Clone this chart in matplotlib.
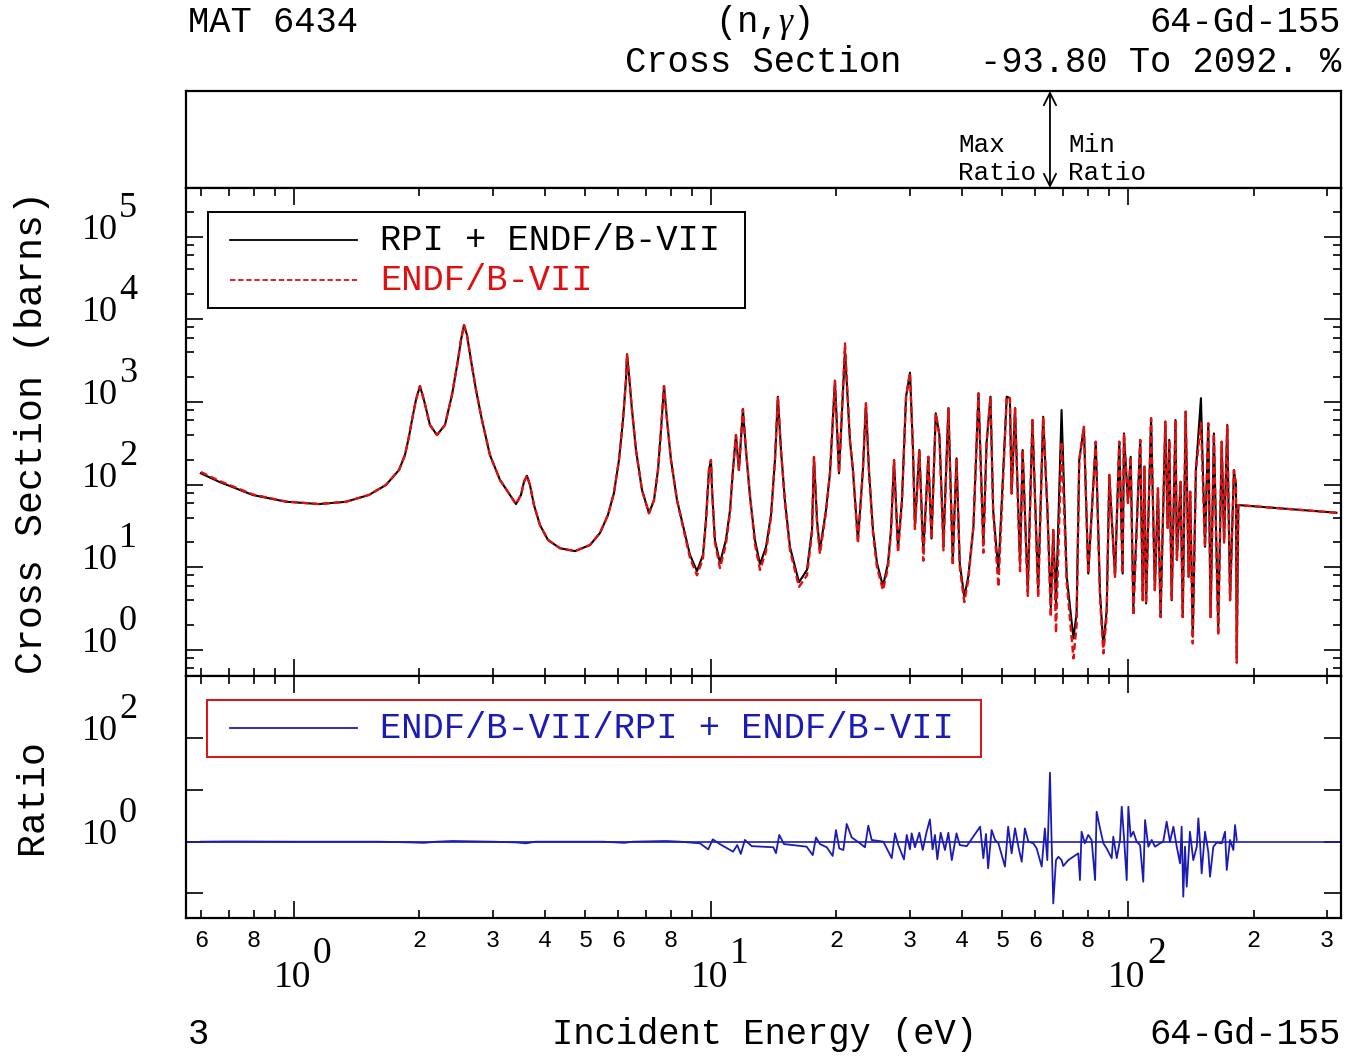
import matplotlib.pyplot as plt
from matplotlib.patches import Rectangle
from matplotlib.lines import Line2D
from matplotlib.ticker import FixedLocator, NullLocator
from matplotlib.transforms import blended_transform_factory, offset_copy

plt.rcParams['font.family'] = ['Liberation Mono', 'DejaVu Sans']
plt.rcParams['mathtext.fontset'] = 'custom'
plt.rcParams['mathtext.rm'] = 'Liberation Serif'
plt.rcParams['mathtext.it'] = 'Liberation Serif:italic'

# capture cross section of Gd-155 (eV, barns)
energy = [0.598, 0.662, 0.797, 0.957, 1.148, 1.332, 1.513, 1.662, 1.786, 1.846,
          1.887, 1.919, 1.961, 2.005, 2.050, 2.119, 2.203, 2.302, 2.393, 2.474,
          2.515, 2.557, 2.600, 2.657, 2.733, 2.824, 2.951, 3.119, 3.296, 3.407,
          3.503, 3.561, 3.620, 3.681, 3.763, 3.890, 4.067, 4.345, 4.720, 5.127,
          5.418, 5.662, 5.852, 6.017, 6.152, 6.255, 6.290, 6.360, 6.466, 6.610,
          6.833, 7.102, 7.301, 7.464, 7.589, 7.716, 7.845, 8.020, 8.290, 8.617,
          8.906, 9.257, 9.568, 9.728, 9.890, 10.0, 10.06, 10.22, 10.51, 10.86,
          11.11, 11.29, 11.48, 11.67, 11.93, 12.13, 12.41, 12.75, 13.11, 13.55,
          13.93, 14.24, 14.47, 14.72, 15.04, 15.47, 16.26, 16.99, 17.47, 17.66,
          17.96, 18.25, 18.87, 19.29, 19.83, 20.28, 20.96, 21.54, 21.90, 22.51,
          23.14, 23.53, 23.92, 24.46, 25.01, 25.85, 26.58, 27.02, 27.48, 28.09,
          28.71, 29.36, 30.01, 30.51, 30.84, 31.6, 32.3, 33.2, 33.8, 34.6,
          35.3, 36.1, 37.1, 38.0, 38.8, 39.5, 40.5, 41.4, 42.6, 43.8,
          45.0, 45.8, 46.8, 47.5, 48.9, 51.2, 52.1, 52.6, 53.6, 55.1,
          55.9, 57.5, 59.0, 60.9, 62.6, 64.1, 65.3, 66.2, 67.2, 69.3,
          71.3, 74.0, 75.3, 76.4, 78.4, 80.3, 83.7, 85.7, 87.3, 88.9,
          90.2, 93.1, 95.3, 97.1, 97.8, 100.0, 101.5, 103.0, 107.0, 108.5,
          109.5, 110.5, 113.6, 116.0, 118.0, 119.7, 122.9, 124.5, 125.6, 127.3,
          130.0, 131.0, 133.7, 135.3, 137.5, 139.8, 141.0, 143.0, 145.5, 149.6,
          153.0, 155.8, 157.8, 160.7, 164.6, 167.8, 170.0, 173.0, 175.7, 179.5,
          181.5, 182.3, 183.9, 316.0]

xs_rpi = [137, 108, 74.8, 62.1, 58.2, 62, 75, 99, 150, 228,
          380, 604, 1055, 1556, 1055, 526, 398, 526, 1212, 3213,
          5600, 8510, 6440, 3213, 1393, 604, 228, 114, 75, 58.2,
          75, 108, 128, 99, 56.8, 32.4, 21.4, 17.0, 15.7, 18.6,
          26, 42.9, 79, 198, 604, 1840, 3764, 2115, 798, 262,
          86, 45, 65, 150, 457, 1556, 604, 198, 65, 28.3,
          14.1, 9.0, 14.1, 37.3, 150, 198, 86, 21.4, 11.3, 21.4,
          49, 150, 398, 150, 820, 262, 71, 21.4, 10.9, 17.6,
          42.9, 198, 1157, 262, 65, 17.6, 6.6, 9.3, 28.3, 216,
          37.3, 16.2, 49, 137, 1804, 137, 4200, 345, 150, 21.4,
          150, 962, 150, 28.3, 11.3, 5.9, 11.3, 28.3, 198, 17,
          65, 1157, 2255, 262, 31, 262, 15.4, 217, 22.3, 728,
          398, 19.5, 840, 12.3, 208, 11.2, 4.4, 7.7, 31, 1270,
          19.5, 316, 1157, 49, 8.85, 1157, 1110, 78, 840, 11.2,
          262, 5.3, 604, 5.3, 662, 49, 3.3, 28.3, 3.66, 798,
          7.7, 1.38, 2.8, 198, 500, 8.4, 330, 4.85, 1.1, 3.05,
          131, 7.7, 330, 8.4, 416, 60, 217, 3.2, 347, 4,
          165, 3.66, 634, 5.3, 90, 2.5, 577, 30, 347, 4,
          604, 12.3, 108, 2.5, 762, 7.7, 82, 1.45, 150, 1110,
          17.7, 551, 2.5, 416, 1.9, 330, 20, 526, 4, 150,
          100, 0.83, 56.6, 45.7]

xs_endf = [142, 111, 76, 62.5, 58.2, 62, 75, 99, 150, 228,
           380, 604, 1055, 1556, 1055, 526, 398, 526, 1212, 3213,
           5600, 8510, 6440, 3213, 1393, 604, 228, 114, 75, 58.2,
           75, 108, 128, 99, 56.8, 32.4, 21.4, 17.0, 15.7, 18.6,
           26, 42.9, 79, 198, 604, 1840, 3764, 2115, 798, 262,
           86, 45, 65, 150, 457, 1556, 604, 198, 65, 27,
           13, 8.0, 12.8, 35, 150, 198, 86, 20, 9.8, 19,
           46, 150, 398, 150, 820, 262, 71, 19, 9.3, 15.5,
           40, 198, 1157, 262, 62, 16, 5.8, 8.0, 26, 216,
           34, 14.5, 46, 137, 1804, 137, 5100, 345, 150, 19.5,
           150, 962, 150, 26, 10, 5.3, 10, 26, 198, 15,
           62, 1157, 2255, 262, 29, 262, 12, 217, 22.3, 728,
           398, 16, 840, 10.5, 208, 10, 3.8, 7, 31, 1270,
           15, 316, 1157, 49, 5.8, 1157, 1110, 78, 840, 9,
           262, 4.5, 604, 4.3, 662, 49, 2.5, 28.3, 1.6, 330,
           6.5, 0.79, 2.0, 198, 500, 8.4, 330, 4.2, 0.91, 2.6,
           131, 7.7, 330, 8.4, 416, 60, 217, 2.6, 347, 4,
           165, 3.66, 634, 5.3, 90, 2.5, 577, 30, 347, 4,
           604, 12.3, 108, 2.5, 762, 7.7, 82, 1.2, 150, 551,
           17.7, 551, 2.5, 416, 1.5, 330, 20, 526, 4, 150,
           100, 0.7, 56.6, 45.7]

# ratio ENDF/B-VII / (RPI + ENDF/B-VII)
ratio_energy = [0.598, 0.70, 1.0, 1.6, 1.9, 2.05, 2.2, 2.4, 2.6, 3.0,
                3.4, 3.6, 3.8, 5.5, 6.2, 6.5, 7.3, 7.8, 8.43,
                9.41, 9.85, 10.1, 10.5, 11.3, 11.56, 11.79, 12.06, 12.52, 14.11,
                14.32, 14.58, 14.96, 16.96, 17.54, 17.86, 18.25, 18.95, 19.58, 19.94,
                20.31, 20.77, 21.16, 21.75, 22.77, 23.40, 23.84, 24.29, 25.9, 27.13,
                27.63, 28.13, 29.03, 29.47, 30.0, 30.29, 30.84, 31.6, 32.2, 32.9,
                33.5, 34.0, 34.45, 34.9, 35.55, 36.4, 37.09, 37.8, 38.8, 39.5,
                41.05, 44.2, 45.0, 45.65, 46.2, 47.1, 48.0, 48.9, 50.7, 51.6,
                52.6, 53.6, 54.6, 55.6, 56.6, 57.7, 59.3, 60.4, 62.1, 63.2,
                64.05, 65.0, 65.6, 66.2, 67.2, 68.1, 69.3, 69.96, 71.9, 73.9,
                76.0, 76.7, 77.4, 78.8, 80.3, 81.8, 83.4, 84.1, 85.7, 87.3,
                88.9, 91.4, 92.2, 94.0, 95.7, 96.6, 97.8, 99.3, 100.2, 101.5,
                103.0, 104.9, 106.9, 108.8, 109.9, 111.9, 114.0, 116.1, 119.3, 121.5,
                123.8, 126.1, 128.5, 130.9, 133.3, 134.5, 135.7, 137.0, 138.3, 140.8,
                143.4, 146.2, 147.5, 148.9, 150.2, 153.0, 155.8, 157.3, 160.2, 163.2,
                167.8, 170.9, 172.5, 175.7, 178.9, 180.6, 182.3]

ratio = [1.0, 1.01, 1.0, 1.0, 0.97, 0.95, 1.0, 1.03, 1.02, 1.0,
         0.97, 0.93, 1.0, 1.0, 0.95, 1.0, 1.02, 1.03, 1.0,
         0.93, 0.71, 1.11, 0.90, 0.64, 0.86, 0.58, 1.08, 0.82, 0.78,
         0.60, 1.35, 0.90, 0.80, 0.55, 1.21, 0.90, 0.78, 0.53, 1.68,
         0.74, 0.69, 2.20, 1.21, 0.93, 0.78, 2.04, 1.08, 1.0, 0.48,
         1.45, 0.86, 0.455, 1.35, 0.71, 1.45, 0.78, 1.49, 0.69, 1.56,
         2.70, 0.71, 1.35, 0.455, 1.49, 0.69, 1.49, 0.44, 1.45, 0.86,
         0.82, 1.95, 0.48, 1.41, 0.305, 1.68, 1.08, 0.93, 0.33, 1.95,
         0.595, 1.81, 0.80, 0.41, 1.81, 1.0, 0.93, 0.74, 0.33, 1.81,
         0.44, 21.6, 1.0, 0.064, 0.44, 0.51, 0.44, 0.338, 0.44, 0.51,
         0.595, 0.181, 1.56, 0.93, 1.35, 1.08, 0.181, 3.80, 1.81, 0.93,
         0.74, 0.48, 1.25, 0.48, 1.08, 4.75, 1.25, 0.181, 4.75, 1.25,
         1.56, 1.0, 0.86, 0.168, 2.62, 0.80, 1.08, 0.80, 0.93, 1.0,
         2.44, 1.0, 1.95, 0.80, 0.381, 1.95, 0.0863, 0.80, 0.135, 1.56,
         0.44, 0.80, 2.83, 0.93, 0.244, 1.56, 0.64, 0.21, 0.80, 0.96,
         0.93, 1.56, 0.283, 1.08, 0.69, 2.10, 1.08]

x_major = [1, 10, 100]
x_major_exp = ['0', '1', '2']
x_minor = [0.6, 0.7, 0.8, 0.9, 2, 3, 4, 5, 6, 7, 8, 9,
           20, 30, 40, 50, 60, 70, 80, 90, 200, 300]
x_minor_labels = ['6', '', '8', '', '2', '3', '4', '5', '6', '', '8', '',
                  '2', '3', '4', '5', '6', '', '8', '', '2', '3']

xs_ticks = [1, 10, 100, 1e3, 1e4, 1e5]
xs_exp = ['0', '1', '2', '3', '4', '5']
ratio_ticks = [0.1, 1, 10, 100]
ratio_label_ticks = [1, 100]
ratio_exp = ['0', '2']

W, H = 1360, 1057
BLUE = '#1c1cb4'
RED = '#e01010'
TXT = 25.6
SERIF = 'Liberation Serif'

fig = plt.figure(figsize=(W / 100, H / 100), dpi=100)


def box(x0, y0, x1, y1):
    return [x0 / W, 1 - y1 / H, (x1 - x0) / W, (y1 - y0) / H]


def fx(x):
    return x / W


def fy(y):
    return 1 - y / H


ax_top = fig.add_axes(box(186, 91, 1341, 188))
ax = fig.add_axes(box(186, 188, 1341, 676))
axr = fig.add_axes(box(186, 676, 1341, 918))

xlim = (0.551, 324.2)

for a in (ax_top, ax, axr):
    for s in a.spines.values():
        s.set_linewidth(1.6)

ax_top.set_xscale('log')
ax_top.set_xlim(*xlim)
ax_top.set_ylim(0, 1)
ax_top.set_xticks([])
ax_top.set_yticks([])
ax_top.xaxis.set_minor_locator(NullLocator())

for a in (ax, axr):
    a.set_xscale('log')
    a.set_yscale('log')
    a.set_xlim(*xlim)
    a.xaxis.set_major_locator(FixedLocator(x_major))
    a.xaxis.set_minor_locator(FixedLocator(x_minor))
    a.tick_params(which='both', direction='in', top=True, right=True, width=1.2,
                  labelleft=False, labelbottom=False)
    a.tick_params(which='major', length=12)
    a.tick_params(which='minor', length=6)


def power_labels(a, ticks, exps, axis, size):
    # "10" plus a full-size raised exponent, as in the original plot
    if axis == 'y':
        tr = blended_transform_factory(fig.transFigure, a.transData)
        for v, e in zip(ticks, exps):
            a.text(fx(118), v, '10', transform=offset_copy(tr, fig=fig, y=-2, units='dots'),
                   ha='right', va='baseline', fontsize=size, family=SERIF, clip_on=False)
            a.text(fx(119), v, e, transform=offset_copy(tr, fig=fig, y=20, units='dots'),
                   ha='left', va='baseline', fontsize=size, family=SERIF, clip_on=False)
    else:
        tr = blended_transform_factory(a.transData, fig.transFigure)
        for v, e in zip(ticks, exps):
            a.text(v, fy(987), '10', transform=offset_copy(tr, fig=fig, x=-2, units='dots'),
                   ha='center', va='baseline', fontsize=size, family=SERIF, clip_on=False)
            a.text(v, fy(963), e, transform=offset_copy(tr, fig=fig, x=19, units='dots'),
                   ha='left', va='baseline', fontsize=size, family=SERIF, clip_on=False)


# main panel
ax.plot(energy, xs_rpi, color='black', lw=1.5)
ax.plot(energy, xs_endf, color=RED, lw=1.7, ls=(0, (3, 1.5)))
ax.set_ylim(0.485, 3.86e5)
ax.yaxis.set_major_locator(FixedLocator(xs_ticks))
ax.yaxis.set_minor_locator(FixedLocator([m * 10.0 ** k for k in range(-1, 6) for m in (2, 4, 6, 8)]))
power_labels(ax, xs_ticks, xs_exp, 'y', 26)

# ratio panel
axr.axhline(1.0, color=BLUE, lw=1.2)
axr.plot(ratio_energy, ratio, color=BLUE, lw=1.3)
axr.set_ylim(0.0334, 1603)
axr.yaxis.set_major_locator(FixedLocator(ratio_ticks))
axr.yaxis.set_minor_locator(NullLocator())
power_labels(axr, ratio_label_ticks, ratio_exp, 'y', 26)
power_labels(axr, x_major, x_major_exp, 'x', 27)
axr.set_xticks(x_minor, x_minor_labels, minor=True)
axr.tick_params(axis='x', which='minor', labelbottom=True, labelsize=17, pad=8)

# max / min ratio marker
ax_top.annotate('', xy=(65.0, 1.0), xytext=(65.0, 0.0),
                arrowprops=dict(arrowstyle='<->', lw=1.3, color='black',
                                shrinkA=0, shrinkB=0, mutation_scale=22))
fig.text(fx(958), fy(145), 'Max', fontsize=18.7, va='center', ha='left')
fig.text(fx(958), fy(173), 'Ratio', fontsize=18.7, va='center', ha='left')
fig.text(fx(1068), fy(145), 'Min', fontsize=18.7, va='center', ha='left')
fig.text(fx(1068), fy(173), 'Ratio', fontsize=18.7, va='center', ha='left')

# legends
fig.add_artist(Rectangle((fx(208), fy(308)), fx(745) - fx(208), fy(212) - fy(308),
                         transform=fig.transFigure, fill=True, facecolor='white',
                         edgecolor='black', lw=1.4))
fig.add_artist(Line2D([fx(230), fx(357)], [fy(240), fy(240)], color='black', lw=1.3))
fig.add_artist(Line2D([fx(230), fx(357)], [fy(280), fy(280)], color=RED, lw=1.3,
                      ls=(0, (3, 1.5))))
fig.text(fx(380), fy(241), 'RPI + ENDF/B-VII', fontsize=TXT, va='center', ha='left')
fig.text(fx(380), fy(281), 'ENDF/B-VII', fontsize=TXT, va='center', ha='left', color=RED)

fig.add_artist(Rectangle((fx(207), fy(757)), fx(981) - fx(207), fy(700) - fy(757),
                         transform=fig.transFigure, fill=True, facecolor='white',
                         edgecolor=RED, lw=1.4))
fig.add_artist(Line2D([fx(230), fx(357)], [fy(728), fy(728)], color=BLUE, lw=1.3))
fig.text(fx(380), fy(729), 'ENDF/B-VII/RPI + ENDF/B-VII', fontsize=TXT,
         va='center', ha='left', color=BLUE)

# titles
fig.text(fx(188), fy(22), 'MAT 6434', fontsize=TXT, va='center', ha='left')
fig.text(fx(763), fy(22), r'(n,$\gamma$)', fontsize=TXT, va='center', ha='center')
fig.text(fx(1341), fy(22), '64-Gd-155', fontsize=TXT, va='center', ha='right')
fig.text(fx(625), fy(63), 'Cross Section', fontsize=TXT, va='center', ha='left')
fig.text(fx(1341), fy(63), '-93.80 To 2092. %', fontsize=TXT, va='center', ha='right')

fig.text(fx(188), fy(1035), '3', fontsize=TXT, va='center', ha='left')
fig.text(fx(764), fy(1035), 'Incident Energy (eV)', fontsize=TXT, va='center', ha='center')
fig.text(fx(1341), fy(1035), '64-Gd-155', fontsize=TXT, va='center', ha='right')

fig.text(fx(32), fy(433), 'Cross Section (barns)', fontsize=27.5, rotation=90,
         va='center', ha='center')
fig.text(fx(32), fy(797), 'Ratio', fontsize=27.5, rotation=90, va='center', ha='center')

fig.savefig('out.png', dpi=100)
